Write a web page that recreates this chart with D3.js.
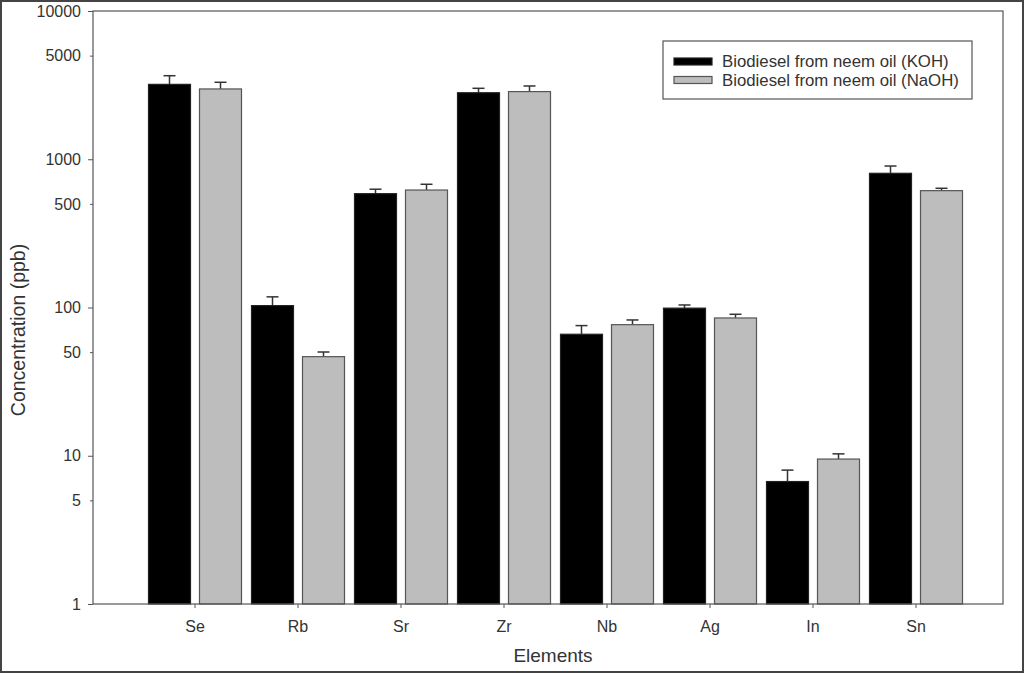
<!DOCTYPE html>
<html>
<head>
<meta charset="utf-8">
<script src="https://cdn.jsdelivr.net/npm/d3@7/dist/d3.min.js"></script>
<style>
  html, body { margin: 0; padding: 0; background: #fff; }
  svg { display: block; }
  text { font-family: "Liberation Sans", Arial, sans-serif; fill: #333; }
</style>
</head>
<body>
<svg id="chart" width="1024" height="674"></svg>
<script>
const categories = ["Se", "Rb", "Sr", "Zr", "Nb", "Ag", "In", "Sn"];
const seriesNames = ["Biodiesel from neem oil (KOH)", "Biodiesel from neem oil (NaOH)"];
const kohValues = [3200, 103, 586, 2810, 66, 99, 6.7, 804];
const kohErrors = [460, 15, 42, 200, 9.5, 5, 1.3, 96];
const naohValues = [2980, 46.6, 620, 2860, 76.6, 85, 9.5, 614];
const naohErrors = [325, 3.5, 58, 260, 5.8, 5, 0.8, 23];
const yTickValues = [1, 5, 10, 50, 100, 500, 1000, 5000, 10000];
const yMajorTicks = [1, 10, 100, 1000, 10000];

const svg = d3.select("#chart");
const W = 1024, H = 674;

// outer frame
svg.append("rect").attr("x", 1).attr("y", 1).attr("width", W - 2).attr("height", H - 3)
  .attr("fill", "none").attr("stroke", "#444").attr("stroke-width", 2);

const plot = { left: 93, right: 1003, top: 11, bottom: 604 };

const y = d3.scaleLog().domain([1, 10000]).range([plot.bottom, plot.top]);
const x = d3.scaleBand().domain(categories).range([143.5, 967.5]).paddingInner(0).paddingOuter(0);
const colors = ["#000000", "#bdbdbd"];
const strokes = ["#222", "#555"];

const barW = 42, gap = 9;
const series = [
  { name: seriesNames[0], values: kohValues, errors: kohErrors },
  { name: seriesNames[1], values: naohValues, errors: naohErrors }
];

const g = svg.append("g");

series.forEach((s, si) => {
  const off = si === 0 ? -(barW + gap / 2) : gap / 2;
  categories.forEach((c, i) => {
    const cx = x(c) + x.bandwidth() / 2 + off + barW / 2;
    const top = y(s.values[i] + s.errors[i]);
    g.append("line").attr("x1", cx).attr("x2", cx)
      .attr("y1", y(s.values[i])).attr("y2", top)
      .attr("stroke", "#333").attr("stroke-width", 1.5);
    g.append("line").attr("x1", cx - 6).attr("x2", cx + 6)
      .attr("y1", top).attr("y2", top)
      .attr("stroke", "#333").attr("stroke-width", 1.5);
  });
  g.selectAll(null).data(categories).enter().append("rect")
    .attr("x", c => x(c) + x.bandwidth() / 2 + off)
    .attr("y", (c, i) => y(s.values[i]))
    .attr("width", barW)
    .attr("height", (c, i) => plot.bottom - y(s.values[i]))
    .attr("fill", colors[si])
    .attr("stroke", strokes[si]).attr("stroke-width", 1.2);
});

// plot frame
svg.append("rect").attr("x", plot.left).attr("y", plot.top)
  .attr("width", plot.right - plot.left).attr("height", plot.bottom - plot.top)
  .attr("fill", "none").attr("stroke", "#555").attr("stroke-width", 1.2);

// y axis
const yAxis = d3.axisLeft(y).tickValues(yTickValues)
  .tickFormat(d3.format("d"))
  .tickSize(5).tickPadding(5);
const ya = svg.append("g").attr("transform", `translate(${plot.left},0)`).call(yAxis);
ya.select(".domain").remove();
ya.selectAll(".tick line").attr("stroke", "#555")
  .attr("x2", d => yMajorTicks.includes(d) ? -5 : -3);
ya.selectAll(".tick text").attr("font-size", 16).attr("fill", "#333")
  .attr("x", -12);

// x axis
const xAxis = d3.axisBottom(x).tickSize(4).tickPadding(13);
const xa = svg.append("g").attr("transform", `translate(0,${plot.bottom})`).call(xAxis);
xa.select(".domain").remove();
xa.selectAll(".tick line").attr("stroke", "#555");
xa.selectAll(".tick text").attr("font-size", 16).attr("fill", "#333");

// axis titles
svg.append("text").attr("x", 553).attr("y", 662).attr("text-anchor", "middle")
  .attr("font-size", 19).text("Elements");
svg.append("text").attr("transform", "translate(25,330) rotate(-90)")
  .attr("text-anchor", "middle").attr("font-size", 19.5).text("Concentration (ppb)");

// legend
const lg = svg.append("g");
lg.append("rect").attr("x", 663).attr("y", 41).attr("width", 309).attr("height", 58)
  .attr("fill", "#fff").attr("stroke", "#555").attr("stroke-width", 1.2);
series.forEach((s, si) => {
  const cy = 61.5 + si * 18.5;
  lg.append("rect").attr("x", 674).attr("y", cy - 3.5).attr("width", 38).attr("height", 7)
    .attr("fill", colors[si]).attr("stroke", strokes[si]).attr("stroke-width", 1.2);
  lg.append("text").attr("x", 722).attr("y", cy + 5.5).attr("font-size", 16.8).text(s.name);
});
</script>
</body>
</html>
